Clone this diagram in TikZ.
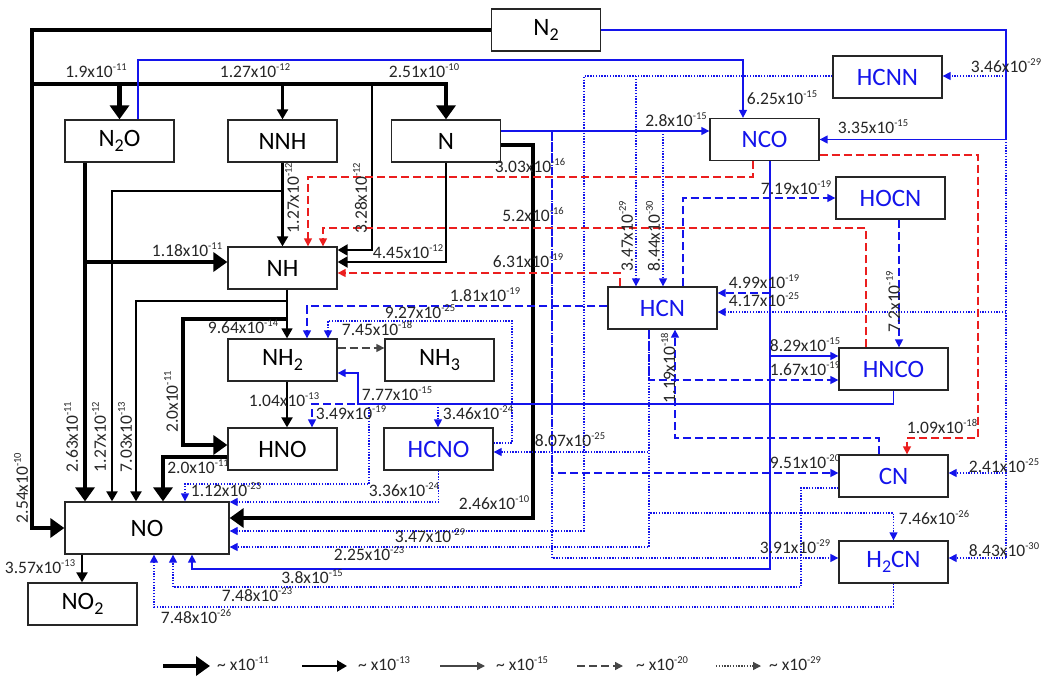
\documentclass[tikz,border=0pt]{standalone}
\usepackage{fontspec}
\setmainfont{Carlito}
\usetikzlibrary{arrows.meta}
\definecolor{cb}{RGB}{20,20,235}
\definecolor{cr}{RGB}{235,30,30}
\definecolor{cg}{RGB}{70,70,70}
\newcommand{\sci}[2]{#1x10\raisebox{7pt}{\fontsize{10.5}{10.5}\selectfont #2}}
\newcommand{\subs}[1]{\raisebox{-5pt}{\fontsize{18}{18}\selectfont #1}}
\tikzset{
 box/.style={draw=black!85, line width=1.3pt, fill=white, minimum width=109pt, minimum height=42pt, inner sep=0pt, font=\fontsize{25}{28}\selectfont},
 cbox/.style={box, text=cb},
 lbl/.style={inner sep=0pt, font=\fontsize{17.5}{20}\selectfont, text=black!85},
 rlbl/.style={lbl, rotate=90},
 thk/.style={line width=4.5pt, -{Triangle[length=14pt,width=19pt]}},
 med/.style={line width=2.2pt, -{Triangle[length=10pt,width=11pt]}},
 thn/.style={line width=1.4pt, -{Triangle[length=8pt,width=8pt]}},
 dsh/.style={thn, dash pattern=on 8pt off 4pt},
 dotl/.style={line width=1.3pt, dash pattern=on 1.3pt off 1.5pt},
 dtt/.style={dotl, -{Triangle[length=8pt,width=8pt]}},
}
\begin{document}
\begin{tikzpicture}[x=1pt,y=-1pt]
\useasboundingbox (0,0) rectangle (1048,677);
% nodes
\node[box] (N2) at (546,30) {N\subs{2}};
\node[box] (N2O) at (119.5,141) {N\subs{2}O};
\node[box] (NNH) at (282.5,141) {NNH};
\node[box] (N) at (446,141) {N};
\node[cbox] (HCNN) at (887.5,77) {HCNN};
\node[cbox] (NCO) at (764.5,139.5) {NCO};
\node[cbox] (HOCN) at (890.5,198) {HOCN};
\node[box] (NH) at (282.5,268) {NH};
\node[cbox] (HCN) at (662.5,308) {HCN};
\node[box] (NH2) at (282.5,360) {NH\subs{2}};
\node[box] (NH3) at (439.5,360) {NH\subs{3}};
\node[cbox] (HNCO) at (893.5,369) {HNCO};
\node[box] (HNO) at (282.5,449) {HNO};
\node[cbox] (HCNO) at (438.5,449) {HCNO};
\node[cbox] (CN) at (893.5,476) {CN};
\node[box, minimum width=164pt, minimum height=52pt] (NO) at (147,528) {NO};
\node[cbox] (H2CN) at (893.5,562) {H\subs{2}CN};
\node[box] (NO2) at (82.5,604) {NO\subs{2}};
\coordinate (bus) at (32,84);

% black connectors
\draw[thk] (N2.west) -| (NO.west -| 32,0) -- (NO.west);
\draw[thk] (bus) -| (N.north);
\draw[thk] (N2O.north |- bus) -- (N2O.north);
\draw[med] (NNH.north |- bus) -- (NNH.north);
\draw[med] (bus -| 372,0) -- (372,250) -- (NH.east |- 0,250);
\draw[med] (N.south) |- (NH.east |- 0,262);
\draw[med] (NNH.south) -- (NH.north);
\draw[med] (NNH.south |- 0,191) -| (NO.north -| 112,0);
\draw[thk] (N2O.south -| 85,0) -- (NO.north -| 85,0);
\draw[thk] (85,262) -- (NH.west |- 0,262);
\draw[med] (NH.south -| 287,0) -- (287,301) -| (NO.north -| 136,0);
\draw[med, line width=1.6pt] (NH.south -| 287,0) -- (NH2.north -| 287,0);
\draw[thk] (287,319) -- (183,319) |- (HNO.west |- 0,445);
\draw[med] (NH2.south -| 287,0) -- (HNO.north -| 287,0);
\draw[dsh, cg] (NH2.east |- 0,348) -- (NH3.west |- 0,348);
\draw[thk] (HNO.west |- 0,457) -| (NO.north -| 163,0);
\draw[thk] (N.east |- 0,145) -- (533,145) |- (NO.east |- 0,518);
\draw[med] (NO.south -| 82,0) -- (NO2.north -| 82,0);

% blue connectors
\draw[thn,cb] (N2.east) -- (1006,30) |- (NCO.east);
\draw[thn,cb] (N2O.north -| 138,0) |- (743,60) -- (NCO.north -| 743,0);
\draw[thn,cb] (N.east |- 0,131) -- (NCO.west |- 0,131);
\draw[dtt,cb] (663,131) -- (HCN.north -| 663,0);
\draw[dtt,cb] (HCNN.west |- 0,76) -| (584,531) -- (NO.east |- 0,531);
\draw[dtt,cb] (636,76) -- (HCN.north -| 636,0);
\draw[dtt,cb] (552,131) |- (H2CN.west |- 0,558);
\draw[dsh,cb] (552,131) |- (CN.west |- 0,473);
\draw[thn,cb] (NCO.south -| 770,0) -- (770,569) -| (NO.south -| 192,0);
\draw[dsh,cb] (770,293) -- (HCN.east |- 0,293);
\draw[thn,cb] (770,356) -- (HNCO.west |- 0,356);
\draw[dsh,cb] (HCN.north -| 683,0) |- (HOCN.west);
\draw[dsh,cb] (HOCN.south -| 899,0) -- (HNCO.north -| 899,0);
\draw[dsh,cb] (HCN.south -| 649,0) |- (HNCO.west |- 0,380);
\draw[dtt,cb] (HCN.south -| 649,0) |- (HCNO.east |- 0,452);
\draw[dtt,cb] (HCN.south -| 649,0) -- (649,513) -| (H2CN.north);
\draw[dtt,cb] (HCN.south -| 649,0) |- (NO.east |- 0,547);
\draw[dsh,cb] (CN.north -| 879,0) -- (879,438) -| (HCN.south -| 675,0);
\draw[dsh,cb] (HCN.west |- 0,306) -| (NH2.north -| 307,0);
\draw[dsh,cb] (HNCO.south) -- (893.5,404) -| (HNO.north -| 312,0);
\draw[thn,cb] (HNCO.south) -- (893.5,404) -- (358,404) |- (NH2.east |- 0,373);
\draw[dtt,cb] (438,404) -- (HCNO.north -| 438,0);
\draw[dtt,cb] (369,404) -- (369,484) -| (NO.north -| 185,0);
\draw[dtt,cb] (HCNO.east |- 0,443) -- (512,443) |- (328,321) -- (NH2.north -| 328,0);
\draw[dtt,cb] (HCNO.south) |- (NO.east |- 0,502);
\draw[dtt,cb] (CN.west |- 0,488) -- (801,488) |- (173,587) -- (NO.south -| 173,0);
\draw[dtt,cb] (H2CN.south) -- (893.5,607) -| (NO.south -| 154,0);
\draw[dotl,cb] (1006,139) -- (1006,558);
\draw[dtt,cb] (1006,76) -- (HCNN.east |- 0,76);
\draw[dtt,cb] (1006,312) -- (HCN.east |- 0,312);
\draw[dtt,cb] (1006,473) -- (CN.east |- 0,473);
\draw[dtt,cb] (1006,558) -- (H2CN.east |- 0,558);

% red connectors
\draw[dsh,cr] (NCO.south -| 753,0) -- (753,177) -| (NH.north -| 308,0);
\draw[dsh,cr] (HNCO.north -| 866,0) -- (866,228) -| (NH.north -| 323,0);
\draw[dsh,cr] (HCN.north -| 620,0) |- (NH.east |- 0,273);
\draw[dsh,cr] (NCO.east |- 0,155) -- (978,155) |- (907,438) -- (CN.north -| 907,0);

% labels
\node[lbl] (l1) at (96,71) {\sci{1.9}{-11}};
\node[lbl] (l2) at (255,71) {\sci{1.27}{-12}};
\node[lbl] (l3) at (424,71) {\sci{2.51}{-10}};
\node[lbl] (l4) at (782,98) {\sci{6.25}{-15}};
\node[lbl] (l5) at (1006,66) {\sci{3.46}{-29}};
\node[lbl] (l6) at (873,127) {\sci{3.35}{-15}};
\node[lbl] (l7) at (676,120) {\sci{2.8}{-15}};
\node[lbl] (l8) at (530,166) {\sci{3.03}{-16}};
\node[lbl] (l9) at (533,215) {\sci{5.2}{-16}};
\node[lbl] (l10) at (796,188) {\sci{7.19}{-19}};
\node[rlbl] (l11) at (292,198) {\sci{1.27}{-12}};
\node[rlbl] (l12) at (360,198) {\sci{3.28}{-12}};
\node[lbl] (l13) at (187,250) {\sci{1.18}{-11}};
\node[lbl] (l14) at (408,252) {\sci{4.45}{-12}};
\node[lbl] (l15) at (528,261) {\sci{6.31}{-19}};
\node[rlbl] (l16) at (626,236) {\sci{3.47}{-29}};
\node[rlbl] (l17) at (653,236) {\sci{8.44}{-30}};
\node[lbl] (l18) at (485,295) {\sci{1.81}{-19}};
\node[lbl] (l19) at (420,312) {\sci{9.27}{-25}};
\node[lbl] (l20) at (377,328) {\sci{7.45}{-18}};
\node[lbl] (l21) at (243,327) {\sci{9.64}{-14}};
\node[rlbl] (l22) at (171,402) {\sci{2.0}{-11}};
\node[lbl] (l23) at (764,282) {\sci{4.99}{-19}};
\node[lbl] (l24) at (764,300) {\sci{4.17}{-25}};
\node[rlbl] (l25) at (893,302) {\sci{7.2}{-19}};
\node[lbl] (l26) at (805,345) {\sci{8.29}{-15}};
\node[lbl] (l27) at (805,369) {\sci{1.67}{-19}};
\node[rlbl] (l28) at (668,368) {\sci{1.19}{-18}};
\node[lbl] (l29) at (397,394) {\sci{7.77}{-15}};
\node[lbl] (l30) at (284,400) {\sci{1.04}{-13}};
\node[lbl] (l31) at (351,413) {\sci{3.49}{-19}};
\node[lbl] (l32) at (478,413) {\sci{3.46}{-24}};
\node[lbl] (l33) at (942,426) {\sci{1.09}{-18}};
\node[lbl] (l34) at (570,440) {\sci{8.07}{-25}};
\node[lbl] (l35) at (805,462) {\sci{9.51}{-20}};
\node[lbl] (l36) at (1004,466) {\sci{2.41}{-25}};
\node[lbl] (l37) at (198,467) {\sci{2.0}{-11}};
\node[lbl] (l38) at (226,490) {\sci{1.12}{-23}};
\node[lbl] (l39) at (404,490) {\sci{3.36}{-24}};
\node[lbl] (l40) at (494,503) {\sci{2.46}{-10}};
\node[rlbl] (l41) at (21,488) {\sci{2.54}{-10}};
\node[rlbl] (l42) at (71,437) {\sci{2.63}{-11}};
\node[rlbl] (l43) at (99,437) {\sci{1.27}{-12}};
\node[rlbl] (l44) at (125,437) {\sci{7.03}{-13}};
\node[lbl] (l45) at (430,536) {\sci{3.47}{-29}};
\node[lbl] (l46) at (369,554) {\sci{2.25}{-23}};
\node[lbl] (l47) at (795,547) {\sci{3.91}{-29}};
\node[lbl] (l48) at (934,518) {\sci{7.46}{-26}};
\node[lbl] (l49) at (1004,550) {\sci{8.43}{-30}};
\node[lbl] (l50) at (40,567) {\sci{3.57}{-13}};
\node[lbl] (l51) at (312,577) {\sci{3.8}{-15}};
\node[lbl] (l52) at (257,595) {\sci{7.48}{-23}};
\node[lbl] (l53) at (196,617) {\sci{7.48}{-26}};

% legend
\coordinate (g1a) at (163,666); \coordinate (g1b) at (210,666);
\coordinate (g2a) at (302,666); \coordinate (g2b) at (347,666);
\coordinate (g3a) at (440,666); \coordinate (g3b) at (485,666);
\coordinate (g4a) at (577,666); \coordinate (g4b) at (623,666);
\coordinate (g5a) at (716,666); \coordinate (g5b) at (761,666);
\draw[thk] (g1a) -- (g1b);
\draw[med] (g2a) -- (g2b);
\draw[thn,cg] (g3a) -- (g3b);
\draw[dsh,cg] (g4a) -- (g4b);
\draw[dtt,cg] (g5a) -- (g5b);
\node[lbl, anchor=west] (G1) at (217,664) {\textasciitilde\ \sci{}{-11}};
\node[lbl, anchor=west] (G2) at (358,664) {\textasciitilde\ \sci{}{-13}};
\node[lbl, anchor=west] (G3) at (496,664) {\textasciitilde\ \sci{}{-15}};
\node[lbl, anchor=west] (G4) at (636,664) {\textasciitilde\ \sci{}{-20}};
\node[lbl, anchor=west] (G5) at (769,664) {\textasciitilde\ \sci{}{-29}};
\end{tikzpicture}
\end{document}
